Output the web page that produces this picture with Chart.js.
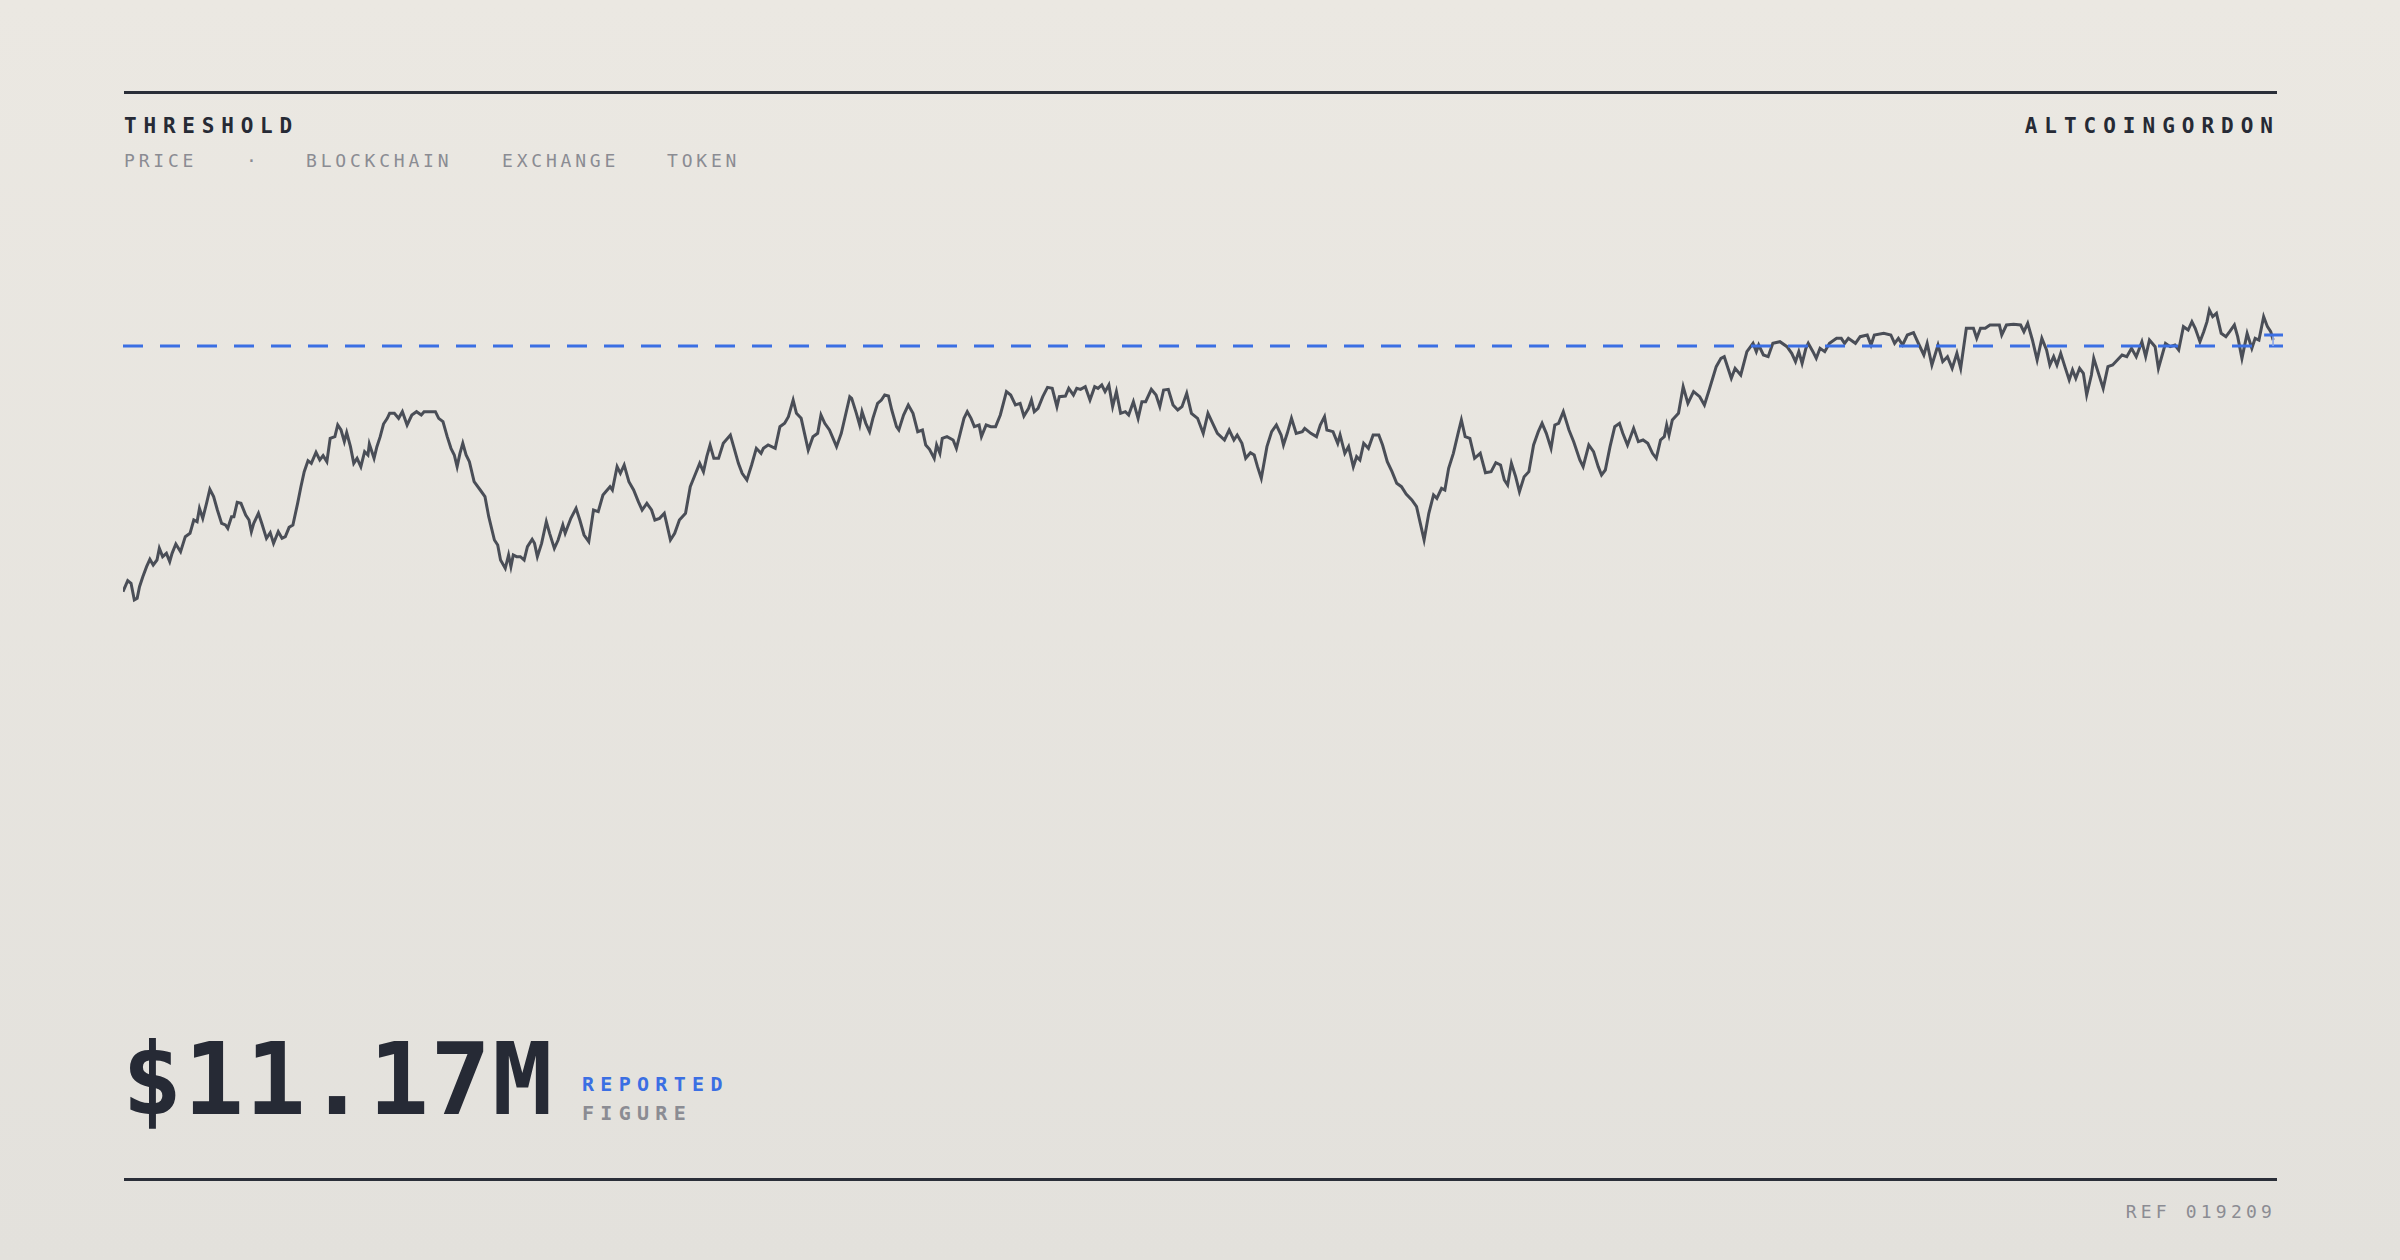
<!DOCTYPE html>
<html><head><meta charset="utf-8">
<script src="https://cdn.jsdelivr.net/npm/chart.js@4"></script>
<style>
html,body{margin:0;padding:0;}
body{width:2400px;height:1260px;position:relative;overflow:hidden;background:linear-gradient(#ebe8e2,#e3e1dc);font-family:"DejaVu Sans Mono",monospace;}
.t{position:absolute;line-height:1;white-space:nowrap;}
.rule{position:absolute;left:124px;width:2153px;height:3px;background:#2a2e38;}
#wrap{position:absolute;left:123px;top:190px;width:2160px;height:520px;}
</style></head><body>
<div class="rule" style="top:91px"></div>
<div class="rule" style="top:1178px"></div>
<div class="t" style="left:124px;top:116px;font-size:21px;font-weight:bold;letter-spacing:6.8px;color:#262a35">THRESHOLD</div>
<div class="t" style="right:120px;top:116px;font-size:21px;font-weight:bold;letter-spacing:7px;color:#262a35">ALTCOINGORDON</div>
<div class="t" style="left:124px;top:152px;font-size:18px;letter-spacing:3.8px;color:#8b8c93">PRICE</div>
<div class="t" style="left:246px;top:152px;font-size:18px;color:#8b8c93">·</div>
<div class="t" style="left:306px;top:152px;font-size:18px;letter-spacing:3.8px;color:#8b8c93">BLOCKCHAIN</div>
<div class="t" style="left:502px;top:152px;font-size:18px;letter-spacing:3.8px;color:#8b8c93">EXCHANGE</div>
<div class="t" style="left:667px;top:152px;font-size:18px;letter-spacing:3.8px;color:#8b8c93">TOKEN</div>
<div class="t" style="left:122px;top:1030px;font-size:100px;font-weight:bold;letter-spacing:1.5px;color:#262a35">$11.17M</div>
<div class="t" style="left:582px;top:1074px;font-size:20px;font-weight:bold;letter-spacing:6.3px;color:#3b6fe3">REPORTED</div>
<div class="t" style="left:582px;top:1103px;font-size:20px;font-weight:bold;letter-spacing:6.3px;color:#8b8c93">FIGURE</div>
<div class="t" style="right:124px;top:1203px;font-size:18px;letter-spacing:4.2px;color:#8b8c93">REF 019209</div>
<div id="wrap"><canvas id="c"></canvas></div>
<script>
const days = [0,10,17,24,30,35,42,50,57,64,72,77,84,92,99,104,112,122,132,142,150,157,162,169,177,184,192,200,209,217,222,230,235,242,250,260,267,272,277,287,294,304,312,319,329,337,344,352,360,370,377,384,392,399,409,417,424,432,439,449,455,462,469,474,482,489,496,504,512,519,522,532,538,545,552,560,565,575,584,592,602,612,622,632,638,662,669,678,687,695,702,708,714,720,727,734,744,757,767,775,787,794,800,810,817,822,827,834,842,850,857,867,872,878,887,897,904,914,922,932,937,949,960,968,977,987,997,1007,1017,1032,1037,1047,1054,1062,1072,1082,1092,1100,1110,1120,1127,1137,1147,1152,1160,1169,1179,1192,1202,1212,1222,1230,1237,1244,1252,1262,1272,1287,1294,1304,1312,1322,1332,1342,1352,1357,1367,1382,1392,1402,1410,1420,1427,1437,1452,1462,1472,1479,1487,1497,1512,1522,1540,
1544,1554,1561,1566,1574,1582,1589,1599,1607,1614,1622,1629,1639,1644,1654,1664,1674,1684,1694,1701,1709,1719,1724,1731,1736,1746,1759,1766,1774,1782,1789,1797,1804,1814,1819,1829,1839,1849,1859,1872,1881,1891,1901,1909,1919,1925,1931,1939,1949,1959,1969,1979,1984,1997,2004,2014,2021,2029,2039,2049,2059,2066,2074,2081,2089,2097,2105,2114,2124,2131,2141,2151,2159,2167,2179,2189,2197,2205,2215,2225,2235,2244,2254,2264,2277,2289,2299,2309,2319,2334,2344,2354,2361,2371,2379,2389,2397,2404,2412,2424,2434,2444,2454,2459,2467,2476,2486,2499,2504,2517,2529,2537,2546,2551,2564,2574,2579,2589,2597,2607,2614,2621,2629,2639,2649,2661,2669,2679,2689,2699,2709,2719,2731,2741,2749,2757,2767,2777,2784,2794,2801,2809,2819,2829,2836,2844,2854,2864,2876,2887,2899,2909,2919,2927,2934,2942,2951,2959,2969,2979,2989,2999,3007,3016,3026,3034,3042,3052,3064,3074,3087,
3094,3106,3116,3126,3133,3141,3151,3161,3171,3178,3188,3201,3211,3221,3231,3241,3249,3258,3266,3271,3276,3283,3296,3306,3316,3328,3341,3351,3361,3376,3386,3393,3401,3408,3416,3428,3441,3454,3461,3466,3476,3486,3496,3511,3526,3536,3544,3551,3558,3566,3571,3581,3588,3596,3606,3616,3631,3641,3648,3656,3671,3681,3696,3704,3711,3731,3746,3754,3762,3771,3781,3794,3806,3816,3823,3833,3846,3856,3866,3876,3886,3894,3906,3921,3928,3936,3946,3956,3966,3976,3981,3991,4006,4021,4028,4036,4046,4056,4066,4076,4083,4091,4098,4106,4116,4124,4131,4138,4146,4154,4161,4171,4176,4186,4196,4206,4216,4226,4236,4246,4256,4266,4278,4286,4294,4306,4313,4321,4328,4338,4348,4356,4366,4376,4384,4391,4401,4409,4416,4421,4428,4436,4446,4456,4464,4474,4481,4490,4501,4511,4518,4526,4536,4544,4551,4556];
const priceIndex = [9.5,12.8,12,7,7.5,11,14,17,19.2,17.5,19,22.5,20,21,18.5,21,23.8,21.5,26,27,31,30.5,34.5,31.5,36,40.2,38,34,30,29.5,28.5,32,32,36.3,36,32.5,31,27.5,30,33,30,25.5,27.2,24,27.5,25.5,26,28.8,29.5,36,41,45.5,48.8,48,51.3,49,50.3,48.5,55.5,56,59.5,58,54.5,57.2,53,48,49.5,47,51.5,50.5,53.8,49.5,53,56,59.8,61.5,63,63,61.5,63.5,59.5,62.5,63.5,62.5,63.5,63.5,61.5,60.5,56,52.5,50.5,47,51,54,50.5,48.5,42.5,40,38,32,25,23.5,19,16.5,20.5,17,20.5,20,20,19,23,25.2,24,20,24,30.5,27,22.5,25,29.5,27,31.5,34.5,31,26.5,24.5,34,33.5,38.5,41,40,47,45,47.5,42.5,40,36.5,34,36,34,31,31.5,33,30,25,27,31,33,41,44.5,48,45.5,50,53.5,49.5,49.5,54,56.5,53,48,45,43,47.5,52.5,51,52.5,53.5,52.5,59,60,62,67,63,61.5,52,56,57,62.5,60,58,53,57,68,
67.5,63,59.5,63.5,60,57.5,61.5,66,67,68.5,68.2,64,59,58,62.5,65.5,63,57.5,58,53.5,52.2,49.5,53.5,51,55.5,56,55,52.5,57,61.5,63.5,61.5,59,59.5,56,59.5,59,59,62.5,69.5,68.5,65.5,66,62.2,64.5,67,63.5,64.5,68,70.8,70.5,65,68,68.2,70.5,68.5,70.5,70.2,71,67,71,70.5,71.5,69.5,71.5,65,69.5,63,63.5,62.5,66.5,61.5,66.5,66.5,70.2,68.5,65,70,70.2,65.5,64,65,69,63,61.5,57,63,60,57,55,58,55,56.5,54,49.5,51.2,50.5,47,43.5,53,57.5,59.5,56.5,53.5,57,61.5,57,57.5,58.5,57,56,59.5,62,58,57.5,54,56.5,51,53,47,50,49,54,52.5,56.5,56.5,53.5,48.5,45.5,42,41,38.8,37,35,30,25,33,38.5,37.5,40.5,40,46.5,51,57,61,56,55.5,49.5,51,45.2,45.5,48.2,47.5,43,41.5,48,44,39.5,44,45.5,53.5,57.5,60,57,52.5,59.5,60,63.5,58,54.5,49,
47,53.5,51.5,47,44.5,46,53,59,60,57,53.5,58.5,54.5,55,54,51,49.5,55,56,59.5,56.5,61,63,71,66,69.5,68,65.5,70,77,79.5,80,76.5,73.5,76.5,74.5,81.5,84,81.5,83.5,80.5,80,84,84.5,83,81,78.5,81.5,78,82.5,84,81.5,79.5,82.5,81.5,84,85.5,85.5,84,85.5,84,86,86.5,83.5,86.5,87,86.5,84,85.5,83.5,86.5,87.2,83.5,80.5,84,77.5,83.5,78.5,80,76.5,81,76.5,88.5,88.5,85.5,88.5,88.5,89.5,89.5,89.5,86.5,89.5,89.7,89.5,87.5,90,85,79,85.5,82,77.5,80,77.5,81,76.5,73,76,73.5,76.5,75,68.5,74.5,79.5,75,70.5,77,77.5,79,80.5,80,82.5,80,84.5,80,85,83,76.5,80.5,84,83,83.5,82,89,88,90.5,88.5,84.5,87.5,90.5,94,92,93,87,86,87.5,89.5,86,79.5,87,82.5,85.5,85,92,89,87.5,85];
const thresholdValue = 83.2;
const lastMarkValue = 86.5;
const xMax = 4577, yMin = -26, yMax = 130;

const series = days.map((d,i)=>({x:d,y:priceIndex[i]}));
new Chart(document.getElementById('c'),{
  type:'line',
  data:{datasets:[
    {data:series,borderColor:'#4a4e57',borderWidth:3,pointRadius:0,tension:0,clip:false,order:2},
    {data:[{x:0,y:thresholdValue},{x:xMax,y:thresholdValue}],borderColor:'#3b6fe3',borderWidth:3,borderDash:[20,17],pointRadius:0,clip:false,order:1},
    {data:[{x:4537,y:lastMarkValue},{x:xMax,y:lastMarkValue}],borderColor:'#3b6fe3',borderWidth:3,pointRadius:0,clip:false,order:0},
    {data:[{x:4556,y:lastMarkValue},{x:4556,y:thresholdValue}],borderColor:'#8fa9e8',borderWidth:1,pointRadius:0,clip:false,order:0}
  ]},
  options:{responsive:true,maintainAspectRatio:false,animation:false,
    layout:{padding:0},
    plugins:{legend:{display:false},tooltip:{enabled:false}},
    scales:{x:{type:'linear',min:0,max:xMax,display:false},y:{min:yMin,max:yMax,display:false}}}
});
</script>
</body></html>
